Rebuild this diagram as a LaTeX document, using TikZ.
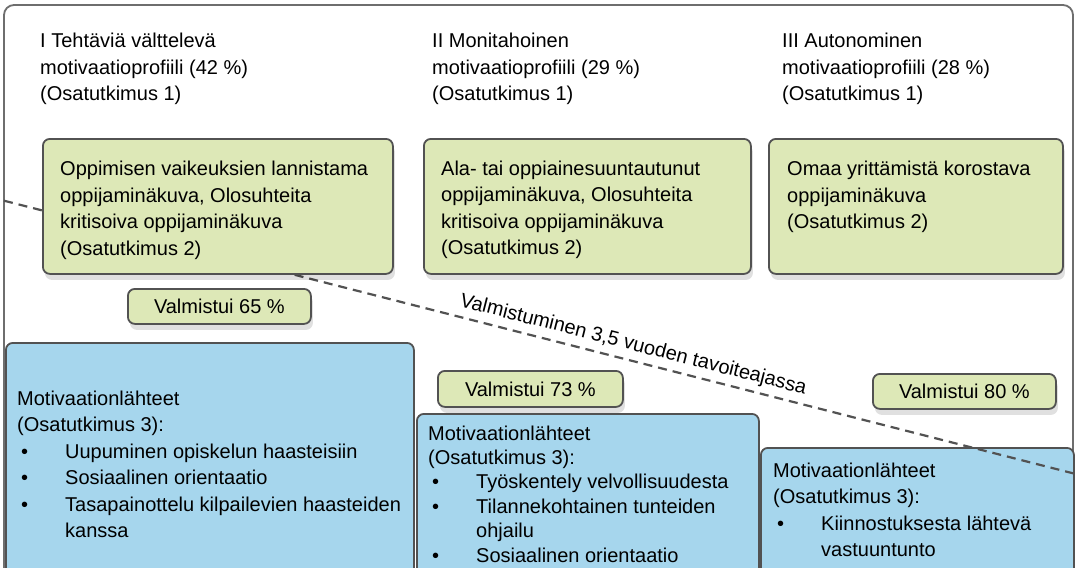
\documentclass[tikz,border=0pt]{standalone}
\usepackage{fontspec}
\setmainfont{Liberation Sans}
\usepackage{tikz}
\usetikzlibrary{shadows}
\usepackage{xcolor}

\definecolor{boxgreen}{RGB}{221,232,183}
\definecolor{boxblue}{RGB}{166,214,237}
\definecolor{edgegray}{RGB}{82,82,82}
\definecolor{framegray}{RGB}{110,110,110}

\newcommand{\bulitem}{\hspace*{4pt}\makebox[44pt][l]{\textbullet}}
\newcommand{\bulcont}{\hspace*{48pt}}

\begin{document}
\begin{tikzpicture}[x=1pt,y=-1pt,
  txt/.style={anchor=base west, inner sep=0pt, font=\fontsize{20}{26.5}\selectfont},
  greenbox/.style={draw=edgegray, fill=boxgreen, line width=1.8pt, rounded corners=7pt,
    anchor=north west, inner sep=0pt,
    drop shadow={shadow xshift=2pt, shadow yshift=-6pt, opacity=0.12, fill=black}},
  bluebox/.style={draw=edgegray, fill=boxblue, line width=1.8pt, rounded corners=7pt,
    anchor=north west, inner sep=0pt},
  dashline/.style={draw=edgegray, line width=2.2pt, dash pattern=on 9pt off 6pt}]

\useasboundingbox (0,0) rectangle (1075,567);
\clip (0,0) rectangle (1075,567);
\fill[white] (0,0) rectangle (1075,567);

% Outer frame
\draw[draw=framegray, line width=1.8pt, rounded corners=10pt] (4,5) rectangle (1073,640);

% Blue boxes (motivation sources)
\node[bluebox, minimum width=408pt, minimum height=280pt] (srca) at (5,342) {};
\node[bluebox, minimum width=342pt, minimum height=220pt] (srcb) at (416,413) {};
\node[bluebox, minimum width=313pt, minimum height=190pt] (srcc) at (760,447) {};

% Dashed goal line
\coordinate (dstart) at (4,200.7);
\coordinate (dend) at (1073,473.3);
\draw[dashline] (dstart) -- (dend)
  node[pos=0.585, sloped, above=5pt, inner sep=0pt, font=\fontsize{20}{24}\selectfont] (goal)
  {Valmistuminen 3,5 vuoden tavoiteajassa};

% Green boxes (learner self-image)
\node[greenbox, minimum width=350pt, minimum height=135pt] (imga) at (42,138) {};
\node[greenbox, minimum width=327pt, minimum height=135pt] (imgb) at (423,138) {};
\node[greenbox, minimum width=294pt, minimum height=135pt] (imgc) at (768,138) {};

% Graduation boxes
\node[greenbox, minimum width=183pt, minimum height=35pt, font=\fontsize{20}{24}\selectfont] (grada) at (127,288) {Valmistui 65 \%};
\node[greenbox, minimum width=185pt, minimum height=36pt, font=\fontsize{20}{24}\selectfont] (gradb) at (437,370) {Valmistui 73 \%};
\node[greenbox, minimum width=183pt, minimum height=35pt, font=\fontsize{20}{24}\selectfont] (gradc) at (872,373) {Valmistui 80 \%};

% Profile titles
\node[txt] (profa) at (40,48) {\begin{tabular}[t]{@{}l@{}}I Tehtäviä välttelevä\\motivaatioprofiili (42 \%)\\(Osatutkimus 1)\end{tabular}};
\node[txt] (profb) at (432,48) {\begin{tabular}[t]{@{}l@{}}II Monitahoinen\\motivaatioprofiili (29 \%)\\(Osatutkimus 1)\end{tabular}};
\node[txt] (profc) at (782,48) {\begin{tabular}[t]{@{}l@{}}III Autonominen\\motivaatioprofiili (28 \%)\\(Osatutkimus 1)\end{tabular}};

% Texts in green boxes
\node[txt] (imgatxt) at (60,175.5) {\begin{tabular}[t]{@{}l@{}}Oppimisen vaikeuksien lannistama\\oppijaminäkuva, Olosuhteita\\kritisoiva oppijaminäkuva\\(Osatutkimus 2)\end{tabular}};
\node[txt] (imgbtxt) at (441,175) {\begin{tabular}[t]{@{}l@{}}Ala- tai oppiainesuuntautunut\\oppijaminäkuva, Olosuhteita\\kritisoiva oppijaminäkuva\\(Osatutkimus 2)\end{tabular}};
\node[txt] (imgctxt) at (787,175.5) {\begin{tabular}[t]{@{}l@{}}Omaa yrittämistä korostava\\oppijaminäkuva\\(Osatutkimus 2)\end{tabular}};

% Texts in blue boxes
\node[txt] (srcatxt) at (17,405) {\begin{tabular}[t]{@{}l@{}}Motivaationlähteet\\(Osatutkimus 3):\\
  \bulitem Uupuminen opiskelun haasteisiin\\
  \bulitem Sosiaalinen orientaatio\\
  \bulitem Tasapainottelu kilpailevien haasteiden\\
  \bulcont kanssa\end{tabular}};
\node[txt, font=\fontsize{20}{24.4}\selectfont] (srcbtxt) at (428,440) {\begin{tabular}[t]{@{}l@{}}Motivaationlähteet\\(Osatutkimus 3):\\
  \bulitem Työskentely velvollisuudesta\\
  \bulitem Tilannekohtainen tunteiden\\
  \bulcont ohjailu\\
  \bulitem Sosiaalinen orientaatio\end{tabular}};
\node[txt] (srcctxt) at (773,477) {\begin{tabular}[t]{@{}l@{}}Motivaationlähteet\\(Osatutkimus 3):\\
  \bulitem Kiinnostuksesta lähtevä\\
  \bulcont vastuuntunto\end{tabular}};

\end{tikzpicture}
\end{document}
